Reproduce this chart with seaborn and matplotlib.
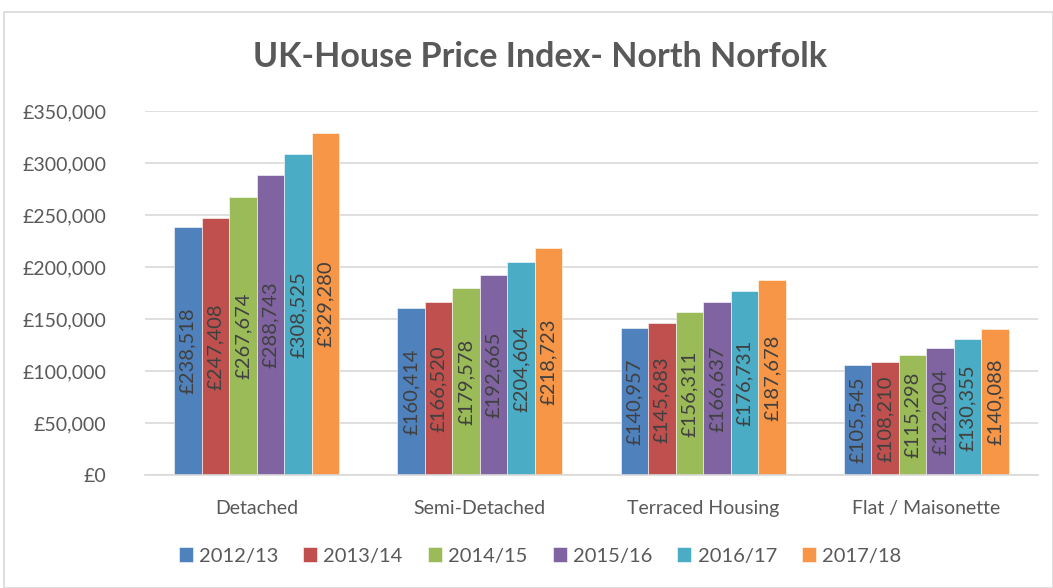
import matplotlib
matplotlib.use("Agg")
import matplotlib.pyplot as plt
import seaborn as sns
import pandas as pd
from matplotlib.patches import Rectangle
from matplotlib.ticker import FuncFormatter

categories = ["Detached", "Semi-Detached", "Terraced Housing", "Flat / Maisonette"]
years = ["2012/13", "2013/14", "2014/15", "2015/16", "2016/17", "2017/18"]
values = {
    "2012/13": [238518, 160414, 140957, 105545],
    "2013/14": [247408, 166520, 145683, 108210],
    "2014/15": [267674, 179578, 156311, 115298],
    "2015/16": [288743, 192665, 166637, 122004],
    "2016/17": [308525, 204604, 176731, 130355],
    "2017/18": [329280, 218723, 187678, 140088],
}
colors = ["#4F81BD", "#C0504D", "#9BBB59", "#8064A2", "#4BACC6", "#F79646"]

rows = []
for y in years:
    for c, v in zip(categories, values[y]):
        rows.append({"Category": c, "Year": y, "Value": v})
df = pd.DataFrame(rows)

sns.set_theme(style="white")
plt.rcParams["font.family"] = ["Lato", "DejaVu Sans"]
text_color = "#595959"

fig = plt.figure(figsize=(10.53, 5.88), dpi=100)
fig.patches.append(Rectangle((4 / 1053, 0), 1 - 4 / 1053, 1 - 12 / 588, transform=fig.transFigure,
                             fill=False, edgecolor="#D9D9D9", linewidth=1.2))
ax = fig.add_axes([145 / 1053, 1 - 475 / 588, 893 / 1053, (475 - 111) / 588])

sns.barplot(data=df, x="Category", y="Value", hue="Year", order=categories, hue_order=years,
            palette=colors, width=0.74, gap=0, ax=ax, edgecolor="white", linewidth=0.4,
            saturation=1, legend=True)

ax.set_ylim(0, 350000)
ax.set_yticks(range(0, 350001, 50000))
ax.yaxis.set_major_formatter(FuncFormatter(lambda v, p: f"£{int(v):,}"))
ax.grid(axis="y", color="#D9D9D9", linewidth=1.2)
ax.set_axisbelow(True)
for s in ["top", "right", "left"]:
    ax.spines[s].set_visible(False)
ax.spines["bottom"].set_color("#D9D9D9")
ax.spines["bottom"].set_linewidth(1.2)
ax.set_xlabel("")
ax.set_ylabel("")
ax.tick_params(axis="both", length=0, labelsize=14, labelcolor=text_color)
ax.tick_params(axis="y", pad=28)
ax.tick_params(axis="x", pad=18)

for container in ax.containers:
    for bar in container:
        h = bar.get_height()
        ax.text(bar.get_x() + bar.get_width() / 2, h / 2, f"£{int(round(h)):,}",
                rotation=90, ha="center", va="center", fontsize=14.5, color="#404040")

handles, labels = ax.get_legend_handles_labels()
ax.legend_.remove()
fig.legend(handles, labels, loc="center", bbox_to_anchor=(540 / 1053, 1 - 556 / 588), ncol=6,
           frameon=False, fontsize=14.5, handlelength=0.7, handleheight=0.7, handletextpad=0.3,
           columnspacing=1.25, labelcolor=text_color)

fig.text(540 / 1053, 1 - 57 / 588, "UK-House Price Index- North Norfolk", ha="center", va="center",
         fontsize=24.5, fontweight="bold", color=text_color)

fig.savefig("out.png", dpi=100)
